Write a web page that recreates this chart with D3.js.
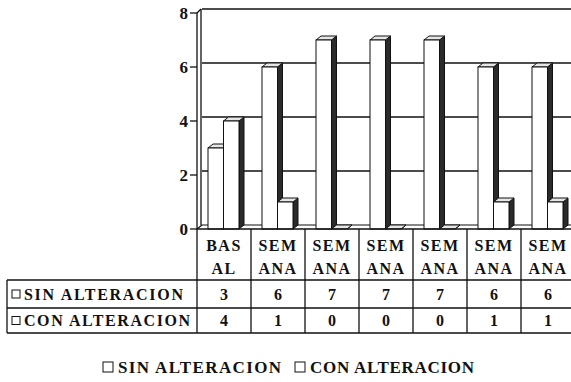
<!DOCTYPE html>
<html>
<head>
<meta charset="utf-8">
<script src="https://cdn.jsdelivr.net/npm/d3@7"></script>
</head>
<body style="margin:0; background:#fff">
<div id="chart"></div>
<script>
// data
var categoryLines = [["BAS", "AL"], ["SEM", "ANA"], ["SEM", "ANA"], ["SEM", "ANA"], ["SEM", "ANA"], ["SEM", "ANA"], ["SEM", "ANA"]];
var seriesNames = ["SIN ALTERACION", "CON ALTERACION"];
var sinValues = [3, 6, 7, 7, 7, 6, 6];
var conValues = [4, 1, 0, 0, 0, 1, 1];
var yTicks = [0, 2, 4, 6, 8];

var width = 571, height = 382;
var dx = 5, dy = 4; // 3d depth offset

var svg = d3.select("#chart").append("svg")
    .attr("width", width)
    .attr("height", height);

var x = d3.scaleBand()
    .domain(d3.range(categoryLines.length))
    .range([197, 197 + 54 * categoryLines.length]);

var xSeries = d3.scaleBand()
    .domain([0, 1])
    .range([11, 42]);

var y = d3.scaleLinear()
    .domain([0, 8])
    .range([229, 13]);

// back wall gridlines + top border
svg.selectAll(".grid")
    .data(yTicks.slice(1))
    .enter().append("line")
    .attr("x1", 197 + dx).attr("x2", width)
    .attr("y1", function(d) { return y(d) - dy; })
    .attr("y2", function(d) { return y(d) - dy; })
    .attr("stroke", "#111").attr("stroke-width", 1.3);

// floor
svg.append("line").attr("x1", 197 + dx).attr("x2", width)
    .attr("y1", y(0) - dy).attr("y2", y(0) - dy)
    .attr("stroke", "#111").attr("stroke-width", 1.2);

// left wall
svg.append("line").attr("x1", 197).attr("x2", 197).attr("y1", y(0)).attr("y2", y(8))
    .attr("stroke", "#111").attr("stroke-width", 1.3);
svg.append("line").attr("x1", 197 + dx - 1).attr("x2", 197 + dx - 1).attr("y1", y(0) - dy).attr("y2", y(8) - dy)
    .attr("stroke", "#111").attr("stroke-width", 1.3);
svg.append("line").attr("x1", 197).attr("x2", 197 + dx - 1).attr("y1", y(8)).attr("y2", y(8) - dy)
    .attr("stroke", "#111").attr("stroke-width", 1.3);
svg.append("line").attr("x1", 197).attr("x2", 197 + dx).attr("y1", y(0)).attr("y2", y(0) - dy)
    .attr("stroke", "#111").attr("stroke-width", 1.3);

// y axis ticks and labels
var yAxis = svg.append("g");
yAxis.selectAll("line")
    .data(yTicks)
    .enter().append("line")
    .attr("x1", 190).attr("x2", 197)
    .attr("y1", function(d) { return y(d); })
    .attr("y2", function(d) { return y(d); })
    .attr("stroke", "#111").attr("stroke-width", 1.3);
yAxis.selectAll("text")
    .data(yTicks)
    .enter().append("text")
    .attr("x", 188)
    .attr("y", function(d) { return y(d); })
    .attr("dy", "0.35em")
    .attr("text-anchor", "end")
    .style("font-size", "17px")
    .text(function(d) { return d; });

// bars as little 3d boxes
var bars = [];
categoryLines.forEach(function(c, i) {
    bars.push({ cat: i, s: 0, value: sinValues[i] });
    bars.push({ cat: i, s: 1, value: conValues[i] });
});

var g = svg.selectAll(".bar")
    .data(bars)
    .enter().append("g")
    .attr("class", "bar");

function x0(d) { return x(d.cat) + xSeries(d.s); }
function x1(d) { return x0(d) + xSeries.bandwidth(); }

g.append("path")
    .attr("d", function(d) {
        var a = x1(d), t = y(d.value), b = y(0);
        return "M" + a + "," + b + "L" + (a + dx) + "," + (b - dy) + "L" + (a + dx) + "," + (t - dy) + "L" + a + "," + t + "Z";
    })
    .attr("fill", "#2b2b2b").attr("stroke", "#111").attr("stroke-width", 1);

g.append("path")
    .attr("d", function(d) {
        var a = x0(d), c = x1(d), t = y(d.value);
        return "M" + a + "," + t + "L" + (a + dx) + "," + (t - dy) + "L" + (c + dx) + "," + (t - dy) + "L" + c + "," + t + "Z";
    })
    .attr("fill", "#e6e6e6").attr("stroke", "#111").attr("stroke-width", 1);

g.append("rect")
    .attr("x", x0)
    .attr("y", function(d) { return y(d.value); })
    .attr("width", xSeries.bandwidth())
    .attr("height", function(d) { return y(0) - y(d.value); })
    .attr("fill", "#fff").attr("stroke", "#111").attr("stroke-width", 1);

// data table
var rowTop = 280, rowH = [28, 25];
var table = svg.append("g").attr("stroke", "#111").attr("stroke-width", 1.3);
table.append("line").attr("x1", 197).attr("x2", width).attr("y1", y(0)).attr("y2", y(0));
table.append("line").attr("x1", 7).attr("x2", width).attr("y1", rowTop).attr("y2", rowTop);
table.append("line").attr("x1", 7).attr("x2", width).attr("y1", rowTop + rowH[0]).attr("y2", rowTop + rowH[0]);
table.append("line").attr("x1", 7).attr("x2", width).attr("y1", rowTop + rowH[0] + rowH[1]).attr("y2", rowTop + rowH[0] + rowH[1]);
table.append("line").attr("x1", 7).attr("x2", 7).attr("y1", rowTop).attr("y2", rowTop + rowH[0] + rowH[1]);
table.selectAll(".vline")
    .data(x.domain())
    .enter().append("line")
    .attr("x1", function(d) { return x(d); })
    .attr("x2", function(d) { return x(d); })
    .attr("y1", y(0))
    .attr("y2", rowTop + rowH[0] + rowH[1]);

// category labels in two lines
var head = svg.selectAll(".head")
    .data(categoryLines)
    .enter().append("g");
head.append("text")
    .attr("x", function(d, i) { return x(i) + x.bandwidth() / 2; })
    .attr("y", 245).attr("dy", "0.35em")
    .attr("text-anchor", "middle")
    .style("font-size", "16px")
    .style("letter-spacing", "1.5px")
    .text(function(d) { return d[0]; });
head.append("text")
    .attr("x", function(d, i) { return x(i) + x.bandwidth() / 2; })
    .attr("y", 268).attr("dy", "0.35em")
    .attr("text-anchor", "middle")
    .style("font-size", "16px")
    .style("letter-spacing", "1.5px")
    .text(function(d) { return d[1]; });

// value rows
var rows = [sinValues, conValues];
var rowCenters = [rowTop + rowH[0] / 2, rowTop + rowH[0] + rowH[1] / 2];
var rowLabelLen = [159, 166];
rows.forEach(function(vals, r) {
    svg.append("rect")
        .attr("x", 12).attr("y", rowCenters[r] - 4)
        .attr("width", 8).attr("height", 8)
        .attr("fill", "#fff").attr("stroke", "#111").attr("stroke-width", 1);
    svg.append("text")
        .attr("x", 24).attr("y", rowCenters[r]).attr("dy", "0.35em")
        .attr("textLength", rowLabelLen[r]).attr("lengthAdjust", "spacing")
        .style("font-size", "16px")
        .text(seriesNames[r]);
    svg.selectAll(".v" + r)
        .data(vals)
        .enter().append("text")
        .attr("x", function(d, i) { return x(i) + x.bandwidth() / 2; })
        .attr("y", rowCenters[r]).attr("dy", "0.35em")
        .attr("text-anchor", "middle")
        .style("font-size", "16px")
        .text(function(d) { return d; });
});

// legend
var legendX = [103, 295];
var legendLen = [163, 164];
seriesNames.forEach(function(name, i) {
    svg.append("rect")
        .attr("x", legendX[i]).attr("y", 362)
        .attr("width", 10).attr("height", 10)
        .attr("fill", "#fff").attr("stroke", "#111").attr("stroke-width", 1);
    svg.append("text")
        .attr("x", legendX[i] + 15).attr("y", 367).attr("dy", "0.35em")
        .attr("textLength", legendLen[i]).attr("lengthAdjust", "spacing")
        .style("font-size", "17px")
        .text(name);
});

// serif bold on every text
svg.selectAll("text")
    .style("font-family", "'Liberation Serif'")
    .style("font-weight", "bold")
    .style("fill", "#111");
</script>
</body>
</html>
